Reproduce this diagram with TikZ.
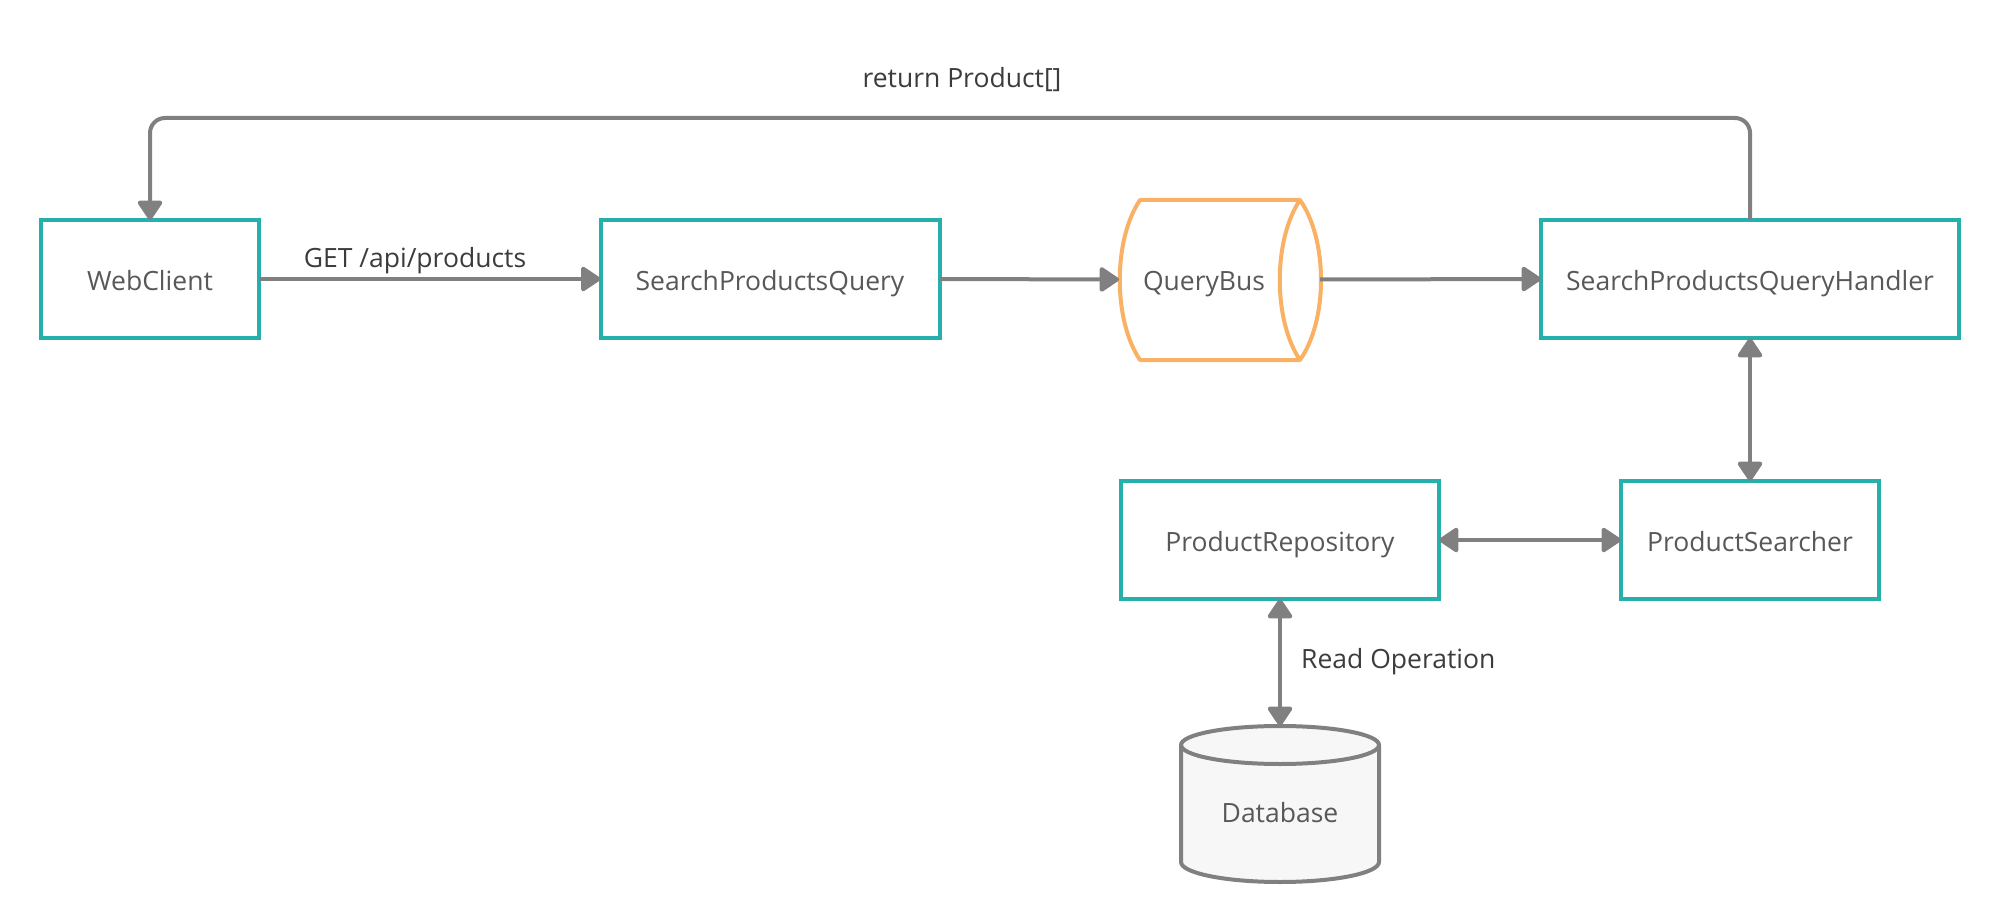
\documentclass[tikz,border=0pt]{standalone}
\usepackage{fontspec}
\setmainfont{Open Sans}
\usetikzlibrary{arrows.meta}
\definecolor{teal1}{RGB}{38,176,172}
\definecolor{orange1}{RGB}{248,177,101}
\definecolor{line1}{RGB}{128,128,128}
\definecolor{txt1}{RGB}{88,88,88}
\definecolor{txt2}{RGB}{60,60,60}
\definecolor{dbfill}{RGB}{247,247,247}
\tikzset{
  tfont/.style={font=\fontsize{26.5}{30}\selectfont, text height=22pt, text depth=0pt},
  box/.style={draw=teal1, line width=4pt, fill=white, rectangle, minimum height=118pt, outer sep=0pt, text=txt1, tfont},
  lbl/.style={text=txt2, tfont, inner sep=0pt},
  conn/.style={draw=line1, line width=4pt, -{Triangle[length=21pt,width=27pt,round]}},
  dconn/.style={draw=line1, line width=4pt, {Triangle[length=21pt,width=27pt,round]}-{Triangle[length=21pt,width=27pt,round]}},
}
\begin{document}
\begin{tikzpicture}[x=1pt,y=-1pt]
\useasboundingbox (0,0) rectangle (2000,920);

\node[box, minimum width=218pt] (wc) at (150,279) {WebClient};
\node[box, minimum width=339pt] (spq) at (770,279) {SearchProductsQuery};
\node[box, minimum width=418pt] (hdl) at (1750,279) {SearchProductsQueryHandler};
\node[box, minimum width=258pt] (ps) at (1750,540) {ProductSearcher};
\node[box, minimum width=318pt] (pr) at (1280,540) {ProductRepository};

% QueryBus (horizontal cylinder)
\draw[orange1, line width=4pt, line join=round]
  (1140,200) -- (1300,200)
  .. controls (1328,240) and (1328,320) .. (1300,360)
  -- (1140,360)
  .. controls (1113,320) and (1113,240) .. (1140,200) -- cycle;
\draw[orange1, line width=4pt]
  (1300,200) .. controls (1273,240) and (1273,320) .. (1300,360);
\node[minimum width=201pt, minimum height=161pt, inner sep=0pt, outer sep=0pt] (qb) at (1219.5,279.5) {};
\node[text=txt1, tfont] (qbt) at (1204,279) {QueryBus};

% Database cylinder
\filldraw[draw=line1, fill=dbfill, line width=4pt]
  (1181,745) -- (1181,862) arc (180:0:99 and 20) -- (1379,745) arc (0:-180:99 and 19) -- cycle;
\draw[line1, line width=4pt] (1181,745) arc (180:0:99 and 19);
\node[minimum width=200pt, minimum height=158pt, inner sep=0pt, outer sep=0pt] (db) at (1280,805) {};
\node[text=txt1, tfont] (dbt) at (1280,811) {Database};

% connectors
\draw[conn] (wc.east) -- (spq.west);
\draw[conn] (spq.east) -- (qb.west);
\draw[conn] (qb.east) -- (hdl.west);
\draw[dconn] (hdl.south) -- (ps.north);
\draw[dconn] (pr.east) -- (ps.west);
\draw[dconn] (pr.south) -- (db.north);
\draw[conn, rounded corners=15pt] (hdl.north) -- ++(0,-102) -| (wc.north);

% labels
\node[lbl] (l1) at (415,257) {GET /api/products};
\node[lbl] (l2) at (962,77) {return Product[]};
\node[lbl, anchor=west] (l3) at (1301,657) {Read Operation};
\end{tikzpicture}
\end{document}
